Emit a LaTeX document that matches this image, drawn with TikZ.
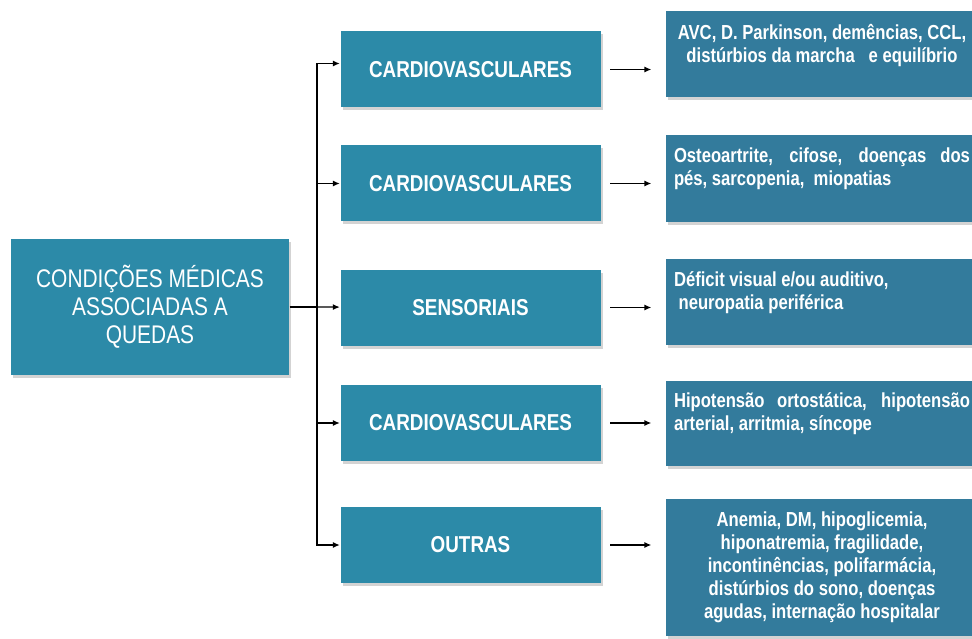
\documentclass[tikz,border=0pt]{standalone}
\usepackage{fontspec}
\newfontfamily\narrowfont{Liberation Sans}[FakeStretch=0.82]
\usetikzlibrary{arrows.meta,shadows}

\definecolor{tealbox}{HTML}{2C8AA8}
\definecolor{steelbox}{HTML}{337B9C}

\tikzset{
  box/.style={rectangle, fill=tealbox, text=white, inner sep=3pt,
    drop shadow={opacity=0.35, shadow xshift=2pt, shadow yshift=-3pt}},
  gbox/.style={box, minimum width=260pt, minimum height=76pt,
    font=\narrowfont\bfseries\fontsize{23}{26}\selectfont},
  dbox/.style={box, fill=steelbox, minimum width=312pt,
    font=\narrowfont\bfseries\fontsize{20.3}{23}\selectfont},
}

\begin{document}
\begin{tikzpicture}[x=1pt, y=-1pt, line width=1.3pt, >={Latex[length=7pt,width=6pt]}]
  \useasboundingbox (0,0) rectangle (972,639);
  \clip (0,0) rectangle (972,639);

  \node[box, minimum width=278pt, minimum height=135pt, align=center,
    font=\narrowfont\fontsize{25.5}{28}\selectfont] (root) at (150,307)
    {CONDIÇÕES MÉDICAS\\ASSOCIADAS A\\QUEDAS};

  \node[gbox] (g1) at (470.5,69.5)  {CARDIOVASCULARES};
  \node[gbox] (g2) at (470.5,183.5) {CARDIOVASCULARES};
  \node[gbox] (g3) at (470.5,307.5) {SENSORIAIS};
  \node[gbox] (g4) at (470.5,423)   {CARDIOVASCULARES};
  \node[gbox] (g5) at (470.5,545)   {OUTRAS};

  \node[dbox] (d1) at (822,54) {\parbox[c][80pt][t]{296pt}{\centering
    \rule{0pt}{26pt}AVC, D. Parkinson, demências, CCL,\\
    distúrbios da marcha\ \ \ e equilíbrio}};
  \node[dbox] (d2) at (822,178.5) {\parbox[c][81pt][t]{296pt}{%
    \rule{0pt}{25pt}Osteoartrite, cifose, doenças dos\linebreak
    \ pés, sarcopenia,\ \ miopatias}};
  \node[dbox] (d3) at (822,302) {\parbox[c][80pt][t]{296pt}{\raggedright
    \rule{0pt}{25pt}Déficit visual e/ou auditivo,\\
    \ neuropatia periférica}};
  \node[dbox] (d4) at (822,423.5) {\parbox[c][79pt][t]{296pt}{%
    \rule{0pt}{23pt}Hipotensão ortostática, hipotensão\linebreak
    arterial, arritmia, síncope}};
  \node[dbox] (d5) at (822,567.5) {\parbox[c][131pt][c]{296pt}{\centering
    Anemia, DM, hipoglicemia,\\
    hiponatremia, fragilidade,\\
    incontinências, polifarmácia,\\
    distúrbios do sono, doenças\\
    agudas, internação hospitalar}};

  \coordinate (fork) at (317,307);
  \draw (root) -- (fork);
  \draw[->] (fork) |- ([yshift=6pt]g1.west);
  \draw[->] (fork) |- (g2);
  \draw[->] (fork) -- (g3);
  \draw[->] (fork) |- (g4);
  \draw[->] (fork) |- (g5);

  \draw[->] ([xshift=9pt]g1.east) -- ([xshift=-14pt]g1.east -| d1.west);
  \draw[->] ([xshift=9pt]g2.east) -- ([xshift=-14pt]g2.east -| d2.west);
  \draw[->] ([xshift=9pt]g3.east) -- ([xshift=-14pt]g3.east -| d3.west);
  \draw[->] ([xshift=9pt]g4.east) -- ([xshift=-14pt]g4.east -| d4.west);
  \draw[->] ([xshift=9pt]g5.east) -- ([xshift=-14pt]g5.east -| d5.west);
\end{tikzpicture}
\end{document}
